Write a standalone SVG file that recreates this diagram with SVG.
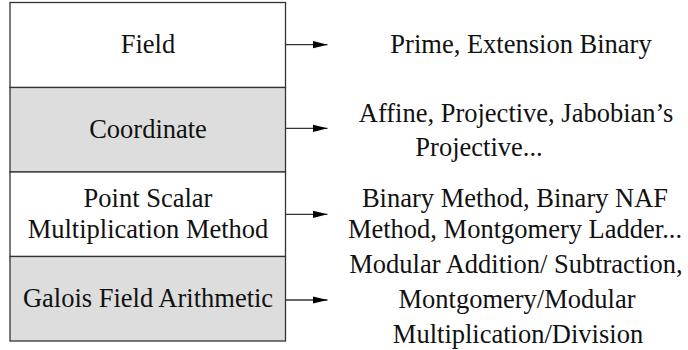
<svg xmlns="http://www.w3.org/2000/svg" width="688" height="350" viewBox="0 0 688 350">
  <defs>
    <marker id="arrow" markerWidth="15" markerHeight="9" refX="15" refY="4.5" orient="auto" markerUnits="userSpaceOnUse">
      <path d="M0,0.8 L15,4.5 L0,8.2 Z" fill="#000"/>
    </marker>
    <style>
      .t { font-family: "Liberation Serif", "Times New Roman", serif; font-size: 26.5px; fill: #111; text-anchor: middle; }
      .layer { stroke: #333; stroke-width: 1.3; }
      .white { fill: #fff; }
      .gray { fill: #dddddd; }
      .conn { stroke: #333; stroke-width: 1.3; fill: none; marker-end: url(#arrow); }
    </style>
  </defs>
  <rect width="688" height="350" fill="#fff"/>

  <!-- stack of layers -->
  <g id="field">
    <rect class="layer white" x="10" y="2.5" width="275.5" height="85"/>
    <text class="t" x="148" y="53.3">Field</text>
  </g>
  <g id="coordinate">
    <rect class="layer gray" x="10" y="87.5" width="275.5" height="84.5"/>
    <text class="t" x="148" y="138.3">Coordinate</text>
  </g>
  <g id="point-scalar">
    <rect class="layer white" x="10" y="172" width="275.5" height="84.5"/>
    <text class="t" x="148" y="206.7">Point Scalar</text>
    <text class="t" x="148" y="238.3">Multiplication Method</text>
  </g>
  <g id="galois">
    <rect class="layer gray" x="10" y="256.5" width="275.5" height="84.5"/>
    <text class="t" x="148" y="306.7">Galois Field Arithmetic</text>
  </g>

  <!-- arrows to descriptions -->
  <g id="connectors">
    <line class="conn" x1="285.5" y1="44.7" x2="327.5" y2="44.7"/>
    <line class="conn" x1="285.5" y1="128.3" x2="327.5" y2="128.3"/>
    <line class="conn" x1="285.5" y1="214.3" x2="327.5" y2="214.3"/>
    <line class="conn" x1="285.5" y1="300" x2="327.5" y2="300"/>
  </g>

  <!-- descriptions -->
  <g id="field-desc">
    <text class="t" x="521" y="53.3">Prime, Extension Binary</text>
  </g>
  <g id="coordinate-desc">
    <text class="t" x="516" y="122">Affine, Projective, Jabobian’s</text>
    <text class="t" x="479" y="156">Projective...</text>
  </g>
  <g id="point-scalar-desc">
    <text class="t" x="515" y="206.7">Binary Method, Binary NAF</text>
    <text class="t" x="515" y="238.3">Method, Montgomery Ladder...</text>
  </g>
  <g id="galois-desc">
    <text class="t" x="516" y="273.3">Modular Addition/ Subtraction,</text>
    <text class="t" x="517" y="308.3">Montgomery/Modular</text>
    <text class="t" x="518" y="343.3">Multiplication/Division</text>
  </g>
</svg>
